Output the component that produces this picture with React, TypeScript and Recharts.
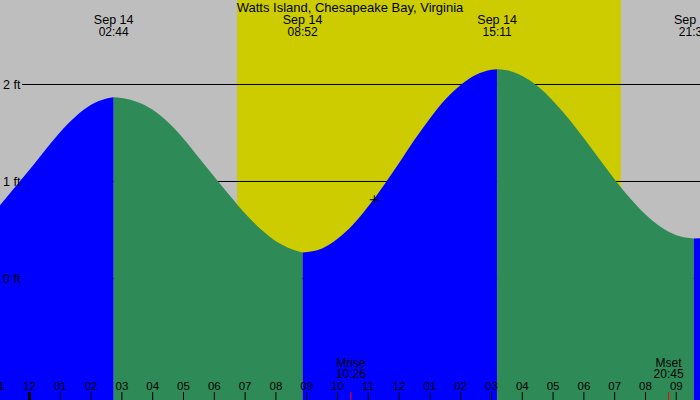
import React from 'react';
import { ComposedChart, Area, XAxis, YAxis, Scatter } from 'recharts';

const W = 700;
const H = 400;
const FONT = '"Liberation Sans", Arial, sans-serif';

const TITLE = 'Watts Island, Chesapeake Bay, Virginia';
const DATE_LABEL = 'Sep 14';

// time axis: hours since midnight, Sep 14
const X_MIN = -0.958;
const X_MAX = 21.77;
// height axis: feet
const Y_MIN = -1.2526;
const Y_MAX = 2.8711;

// tide curve (hours, feet)
const tideHours = [
  -0.958, -0.5, 0, 0.5, 1, 1.5, 2, 2.5, 2.733,
  3, 3.5, 4, 4.5, 5, 5.5, 6, 6.5, 7, 7.5, 8, 8.5, 8.867,
  9.5, 10, 10.5, 11, 11.5, 12, 12.5, 13, 13.5, 14, 14.5, 15, 15.183,
  15.5, 16, 16.5, 17, 17.5, 18, 18.5, 19, 19.5, 20, 20.5, 21, 21.57,
  21.77,
];
const tideFeet = [
  0.756, 0.93, 1.12, 1.32, 1.51, 1.67, 1.79, 1.855, 1.869,
  1.862, 1.82, 1.74, 1.61, 1.44, 1.245, 1.05, 0.855, 0.67, 0.51, 0.385, 0.305, 0.268,
  0.31, 0.41, 0.555, 0.745, 0.96, 1.19, 1.43, 1.65, 1.845, 1.995, 2.1, 2.152, 2.158,
  2.147, 2.088, 1.982, 1.831, 1.649, 1.446, 1.232, 1.021, 0.827, 0.66, 0.53, 0.446, 0.412,
  0.416,
];

// high / low tide events
const extremeHours = [2.733, 8.867, 15.183, 21.57];
const extremeTimes = ['02:44', '08:52', '15:11', '21:34'];

// sun
const sunriseHour = 6.74;
const sunsetHour = 19.2;

// moon
const moonHours = [10.433, 20.75];
const moonNames = ['Mrise', 'Mset'];
const moonTimes = ['10:26', '20:45'];

// hour ticks
const hourTicks = [-1, 0, 1, 2, 3, 4, 5, 6, 7, 8, 9, 10, 11, 12, 13, 14, 15, 16, 17, 18, 19, 20, 21];

// height grid lines
const gridFeet = [0, 1, 2];
const gridStartHour = -0.24;

// current-time marker
const markerHour = [11.195];
const markerFeet = [0.812];

const COLORS = {
  night: '#bebebe',
  day: '#cccc00',
  rising: '#0000ff',
  falling: '#2e8b57',
  line: '#000000',
  moon: '#ff0000',
};

type Pt = { h: number; v: number };

const segments: { points: Pt[]; rising: boolean }[] = (() => {
  const out: { points: Pt[]; rising: boolean }[] = [];
  let cur: Pt[] = [];
  tideHours.forEach((h, i) => {
    const p = { h, v: tideFeet[i] };
    cur.push(p);
    if (extremeHours.includes(h) && cur.length > 1) {
      out.push({ points: cur, rising: cur[cur.length - 1].v > cur[0].v });
      cur = [p];
    }
  });
  if (cur.length > 1) out.push({ points: cur, rising: cur[cur.length - 1].v > cur[0].v });
  return out;
})();

const dayData: Pt[] = [
  { h: sunriseHour, v: Y_MAX },
  { h: sunsetHour, v: Y_MAX },
];

const gridData: Pt[][] = gridFeet.map((f) => [
  { h: gridStartHour, v: f },
  { h: X_MAX, v: f },
]);

const markerData: Pt[] = markerHour.map((h, i) => ({ h, v: markerFeet[i] }));

const pad = (n: number) => (n < 10 ? '0' + n : String(n));

const HourTick = (props: any) => {
  const { x, payload } = props;
  const h = payload.value as number;
  const label = pad(((h % 12) + 12) % 12 || 12);
  return (
    <g>
      <line x1={x} x2={x} y1={H - 8} y2={H} stroke={COLORS.line} strokeWidth={h === 0 ? 3 : 1} />
      <text x={x} y={H - 10} textAnchor="middle" fontSize={11.5} fontFamily={FONT} fill="#000">
        {label}
      </text>
    </g>
  );
};

const MoonTick = (props: any) => {
  const { x, payload } = props;
  const i = moonHours.indexOf(payload.value);
  return (
    <g>
      <line x1={x} x2={x} y1={H - 8} y2={H} stroke={COLORS.moon} strokeWidth={1} />
      <text x={x} y={H - 33.5} textAnchor="middle" fontSize={12} fontFamily={FONT} fill="#000">
        {moonNames[i]}
      </text>
      <text x={x} y={H - 22} textAnchor="middle" fontSize={12} fontFamily={FONT} fill="#000">
        {moonTimes[i]}
      </text>
    </g>
  );
};

const TideTick = (props: any) => {
  const { x, payload } = props;
  const i = extremeHours.indexOf(payload.value);
  return (
    <g>
      <text x={x} y={24} textAnchor="middle" fontSize={12.5} fontFamily={FONT} fill="#000">
        {DATE_LABEL}
      </text>
      <text x={x} y={36} textAnchor="middle" fontSize={12} fontFamily={FONT} fill="#000">
        {extremeTimes[i]}
      </text>
    </g>
  );
};

const FeetTick = (props: any) => {
  const { y, payload } = props;
  return (
    <text x={3} y={y + 4.5} textAnchor="start" fontSize={12.5} fontFamily={FONT} fill="#000">
      {`${payload.value} ft`}
    </text>
  );
};

const MarkerShape = (props: any) => {
  const { cx, cy } = props;
  return (
    <g>
      <line x1={cx - 4.5} x2={cx + 4.5} y1={cy} y2={cy} stroke="#000" strokeWidth={1} />
      <line x1={cx} x2={cx} y1={cy - 4.5} y2={cy + 4.5} stroke="#000" strokeWidth={1} />
    </g>
  );
};

export default function App() {
  return (
    <div
      style={{
        position: 'absolute',
        left: 0,
        top: 0,
        width: W,
        height: H,
        background: COLORS.night,
        overflow: 'hidden',
      }}
    >
      <ComposedChart width={W} height={H} margin={{ top: 0, right: 0, bottom: 0, left: 0 }}>
        <XAxis
          dataKey="h"
          type="number"
          domain={[X_MIN, X_MAX]}
          allowDataOverflow
          ticks={hourTicks}
          interval={0}
          mirror
          axisLine={false}
          tickLine={false}
          tick={(p: any) => <HourTick {...p} />}
        />
        <XAxis
          xAxisId="moon"
          dataKey="h"
          type="number"
          domain={[X_MIN, X_MAX]}
          allowDataOverflow
          ticks={moonHours}
          interval={0}
          mirror
          axisLine={false}
          tickLine={false}
          tick={(p: any) => <MoonTick {...p} />}
        />
        <XAxis
          xAxisId="tides"
          orientation="top"
          dataKey="h"
          type="number"
          domain={[X_MIN, X_MAX]}
          allowDataOverflow
          ticks={extremeHours}
          interval={0}
          mirror
          axisLine={false}
          tickLine={false}
          tick={(p: any) => <TideTick {...p} />}
        />
        <YAxis
          type="number"
          domain={[Y_MIN, Y_MAX]}
          allowDataOverflow
          ticks={gridFeet}
          interval={0}
          mirror
          axisLine={false}
          tickLine={false}
          tick={(p: any) => <FeetTick {...p} />}
        />
        <Area
          data={dayData}
          dataKey="v"
          type="linear"
          baseValue="dataMin"
          fill={COLORS.day}
          fillOpacity={1}
          stroke="none"
          dot={false}
          activeDot={false}
          isAnimationActive={false}
        />
        {gridData.map((d, i) => (
          <Area
            key={`grid-${i}`}
            data={d}
            dataKey="v"
            type="linear"
            baseValue="dataMin"
            fill="none"
            stroke={COLORS.line}
            strokeWidth={1}
            dot={false}
            activeDot={false}
            isAnimationActive={false}
          />
        ))}
        {segments.map((s, i) => (
          <Area
            key={`seg-${i}`}
            data={s.points}
            dataKey="v"
            type="monotone"
            baseValue="dataMin"
            fill={s.rising ? COLORS.rising : COLORS.falling}
            fillOpacity={1}
            stroke="none"
            dot={false}
            activeDot={false}
            isAnimationActive={false}
          />
        ))}
        <Scatter data={markerData} dataKey="v" shape={(p: any) => <MarkerShape {...p} />} isAnimationActive={false} />
      </ComposedChart>
      <svg
        width={W}
        height={16}
        style={{ position: 'absolute', left: 0, top: 0, pointerEvents: 'none' }}
      >
        <text x={W / 2} y={11.5} textAnchor="middle" fontSize={13} fontFamily={FONT} fill="#000">
          {TITLE}
        </text>
      </svg>
    </div>
  );
}
